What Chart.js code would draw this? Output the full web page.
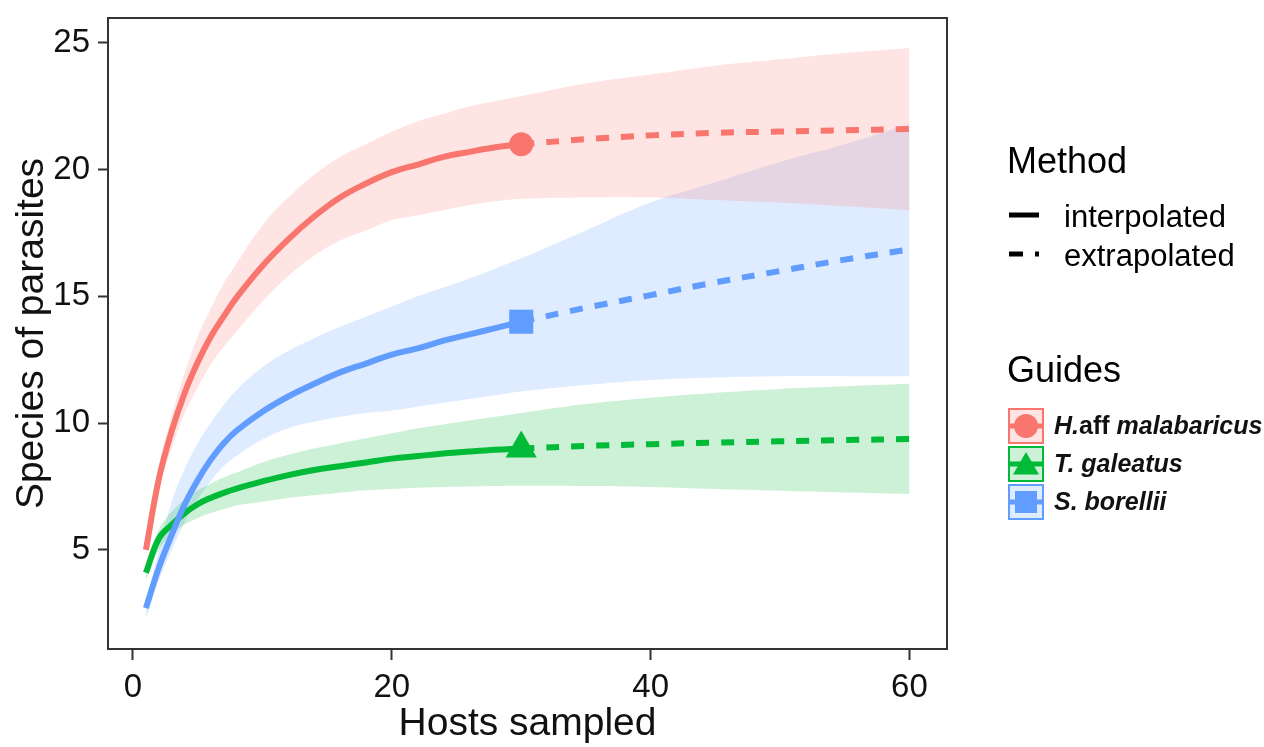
<!DOCTYPE html>
<html>
<head>
<meta charset="utf-8">
<title>Species of parasites vs hosts sampled</title>
<script src="https://cdn.jsdelivr.net/npm/chart.js@4.4.1/dist/chart.umd.min.js"></script>
<style>
  html, body { margin: 0; padding: 0; background: #fff; }
  canvas { display: block; }
</style>
</head>
<body>
<canvas id="mainChart" width="1264" height="747"></canvas>
<script>
// --- dane ---
const xInterp = [1, 2, 3, 4, 5, 6, 7, 8, 10, 12, 14, 16, 18, 20, 22, 24, 26, 28, 30];
const xExtrap = [30, 35, 40, 45, 50, 55, 60];
const xBand = xInterp.concat(xExtrap.slice(1));
const xTicks = [0, 20, 40, 60];
const yTicks = [5, 10, 15, 20, 25];

// H.aff malabaricus
const hafInterp = [5.0, 7.8, 9.7, 11.2, 12.4, 13.4, 14.2, 14.95, 16.2, 17.25, 18.15, 18.9, 19.45, 19.9, 20.2, 20.5, 20.7, 20.88, 21.0];
const hafExtrap = [21.0, 21.2, 21.35, 21.45, 21.5, 21.55, 21.6];
const hafUpper = [5.2, 8.3, 10.3, 12.0, 13.4, 14.5, 15.5, 16.3, 17.8, 18.9, 19.8, 20.5, 21.0, 21.5, 21.9, 22.2, 22.5, 22.7, 22.9, 23.4, 23.75, 24.1, 24.35, 24.6, 24.8];
const hafLower = [4.8, 7.4, 9.0, 10.4, 11.4, 12.3, 13.0, 13.6, 14.8, 15.8, 16.6, 17.2, 17.6, 18.0, 18.2, 18.4, 18.6, 18.75, 18.85, 18.9, 18.9, 18.8, 18.7, 18.55, 18.4];

// T. galeatus
const tgInterp = [4.1, 5.45, 6.0, 6.45, 6.8, 7.05, 7.25, 7.42, 7.7, 7.95, 8.15, 8.3, 8.45, 8.6, 8.7, 8.8, 8.88, 8.95, 9.0];
const tgExtrap = [9.0, 9.1, 9.17, 9.23, 9.28, 9.33, 9.37];
const tgUpper = [4.3, 5.8, 6.5, 7.0, 7.35, 7.6, 7.85, 8.05, 8.45, 8.75, 9.0, 9.2, 9.4, 9.6, 9.8, 9.95, 10.1, 10.25, 10.4, 10.75, 11.0, 11.2, 11.35, 11.45, 11.55];
const tgLower = [3.8, 5.0, 5.6, 6.0, 6.25, 6.45, 6.6, 6.75, 6.9, 7.05, 7.15, 7.25, 7.35, 7.4, 7.45, 7.48, 7.5, 7.52, 7.53, 7.52, 7.48, 7.4, 7.33, 7.26, 7.2];

// S. borellii
const sbInterp = [2.7, 4.3, 5.6, 6.8, 7.75, 8.55, 9.2, 9.7, 10.45, 11.05, 11.55, 12.0, 12.35, 12.7, 12.95, 13.25, 13.5, 13.75, 14.0];
const sbExtrap = [14.0, 14.55, 15.05, 15.55, 16.0, 16.45, 16.85];
const sbUpper = [2.9, 5.0, 6.9, 8.2, 9.2, 10.0, 10.7, 11.3, 12.2, 12.85, 13.35, 13.8, 14.2, 14.6, 15.0, 15.35, 15.7, 16.1, 16.5, 17.6, 18.7, 19.5, 20.3, 21.0, 21.8];
const sbLower = [2.3, 3.8, 5.0, 6.1, 7.0, 7.7, 8.3, 8.7, 9.35, 9.8, 10.05, 10.25, 10.4, 10.5, 10.65, 10.8, 10.95, 11.1, 11.25, 11.5, 11.7, 11.8, 11.85, 11.85, 11.85];

const FONT = "'Liberation Sans', Arial, sans-serif";

const guides = [
    { name: 'H.aff malabaricus', color: '#F8766D', band: 'rgba(248,118,109,0.2)', marker: 'circle', radius: 12,
      interp: hafInterp, extrap: hafExtrap, upper: hafUpper, lower: hafLower, order: 3 },
    { name: 'T. galeatus', color: '#00BA38', band: 'rgba(0,186,56,0.2)', marker: 'triangle', radius: 18,
      interp: tgInterp, extrap: tgExtrap, upper: tgUpper, lower: tgLower, order: 2 },
    { name: 'S. borellii', color: '#619CFF', band: 'rgba(97,156,255,0.2)', marker: 'rect', radius: 17,
      interp: sbInterp, extrap: sbExtrap, upper: sbUpper, lower: sbLower, order: 1 }
];

const pts = (xs, ys) => xs.map((x, i) => ({ x: x, y: ys[i] }));

const datasets = [];
// pasma ufności
guides.forEach(g => {
    const lowIdx = datasets.length;
    datasets.push({
        label: g.name + ' lower', data: pts(xBand, g.lower),
        borderColor: 'transparent', pointRadius: 0, fill: false, tension: 0.4, order: 10
    });
    datasets.push({
        label: g.name + ' upper', data: pts(xBand, g.upper),
        borderColor: 'transparent', backgroundColor: g.band, pointRadius: 0, fill: lowIdx,
        tension: 0.4, order: 10
    });
});
// linie i punkty
guides.forEach(g => {
    datasets.push({
        label: g.name + ' interpolated', data: pts(xInterp, g.interp),
        borderColor: g.color, borderWidth: 6, pointRadius: 0, fill: false, tension: 0.4, order: g.order
    });
    datasets.push({
        label: g.name + ' extrapolated', data: pts(xExtrap, g.extrap),
        borderColor: g.color, borderWidth: 6, borderDash: [13, 12], borderCapStyle: 'butt',
        pointRadius: 0, fill: false, tension: 0.4, order: g.order
    });
    datasets.push({
        label: g.name + ' observed', data: [{ x: 30, y: g.interp[g.interp.length - 1] }],
        showLine: false, pointStyle: g.marker, pointRadius: g.radius, pointHoverRadius: g.radius,
        backgroundColor: g.color, borderColor: g.color, borderWidth: 0, order: -1
    });
});

// ramka panelu
const framePlugin = {
    id: 'frame',
    afterDraw(chart) {
        const { ctx, chartArea: a } = chart;
        ctx.save();
        ctx.strokeStyle = '#333';
        ctx.lineWidth = 2;
        ctx.strokeRect(a.left, a.top, a.right - a.left, a.bottom - a.top);
        ctx.restore();
    }
};

function drawMarker(ctx, style, x, y, r) {
    ctx.beginPath();
    if (style === 'circle') {
        ctx.arc(x, y, r, 0, Math.PI * 2);
    } else if (style === 'triangle') {
        ctx.moveTo(x, y - r);
        ctx.lineTo(x + r * 0.866, y + r * 0.5);
        ctx.lineTo(x - r * 0.866, y + r * 0.5);
        ctx.closePath();
    } else {
        ctx.rect(x - r, y - r, 2 * r, 2 * r);
    }
    ctx.fill();
}

// legenda
const legendPlugin = {
    id: 'sideLegend',
    afterDraw(chart) {
        const ctx = chart.ctx;
        ctx.save();
        ctx.fillStyle = '#000';
        ctx.textBaseline = 'middle';
        ctx.textAlign = 'left';

        ctx.font = '36px ' + FONT;
        ctx.fillText('Method', 1007, 163);

        ctx.font = '31px ' + FONT;
        ctx.fillText('interpolated', 1064, 218);
        ctx.fillText('extrapolated', 1064, 257);

        ctx.strokeStyle = '#000';
        ctx.lineWidth = 5;
        ctx.beginPath();
        ctx.moveTo(1009, 215); ctx.lineTo(1039, 215);
        ctx.stroke();
        ctx.beginPath();
        ctx.moveTo(1009, 254); ctx.lineTo(1023, 254);
        ctx.moveTo(1035, 254); ctx.lineTo(1039, 254);
        ctx.stroke();

        ctx.font = '36px ' + FONT;
        ctx.fillText('Guides', 1007, 372);

        const boxTop = [408, 446, 484];
        const markerR = [12, 15, 11];
        guides.forEach((g, i) => {
            const bx = 1008, by = boxTop[i], s = 36;
            ctx.fillStyle = g.band;
            ctx.fillRect(bx, by, s, s);
            ctx.strokeStyle = g.color;
            ctx.lineWidth = 2;
            ctx.strokeRect(bx + 1, by + 1, s - 2, s - 2);
            ctx.lineWidth = 5;
            ctx.beginPath();
            ctx.moveTo(bx + 2, by + s / 2); ctx.lineTo(bx + s - 2, by + s / 2);
            ctx.stroke();
            ctx.fillStyle = g.color;
            drawMarker(ctx, g.marker, bx + s / 2, by + s / 2 + (g.marker === 'triangle' ? 3 : 0), markerR[i]);
        });

        ctx.fillStyle = '#111';
        const parts = [
            [['H.', 'italic bold'], ['aff ', 'bold'], ['malabaricus', 'italic bold']],
            [['T. galeatus', 'italic bold']],
            [['S. borellii', 'italic bold']]
        ];
        parts.forEach((p, i) => {
            let x = 1054;
            const y = boxTop[i] + 19;
            p.forEach(([txt, style]) => {
                ctx.font = style + ' 25px ' + FONT;
                ctx.fillText(txt, x, y);
                x += ctx.measureText(txt).width;
            });
        });
        ctx.restore();
    }
};

const ctx = document.getElementById('mainChart').getContext('2d');
const chart = new Chart(ctx, {
    type: 'line',
    data: { datasets: datasets },
    options: {
        responsive: false,
        animation: false,
        events: [],
        layout: { padding: { left: 0, right: 317, top: 13, bottom: 0 } },
        plugins: {
            legend: { display: false },
            tooltip: { enabled: false },
            filler: { drawTime: 'beforeDatasetsDraw', propagate: false }
        },
        scales: {
            x: {
                type: 'linear',
                min: -1.93,
                max: 62.9,
                afterBuildTicks: s => { s.ticks = xTicks.map(v => ({ value: v })); },
                afterFit: s => { s.height = 98; s.paddingLeft = 0; s.paddingRight = 0; },
                grid: { drawOnChartArea: false, drawTicks: true, tickLength: 11, tickColor: '#333', tickWidth: 2 },
                border: { display: true, color: '#333', width: 2 },
                ticks: { color: '#111', font: { size: 33, family: FONT }, padding: 8, maxRotation: 0 },
                title: {
                    display: true, text: 'Hosts sampled', color: '#111',
                    font: { size: 39, family: FONT, lineHeight: 1 }, padding: { top: 0, bottom: 3 }
                }
            },
            y: {
                type: 'linear',
                min: 1.09,
                max: 25.98,
                afterBuildTicks: s => { s.ticks = yTicks.map(v => ({ value: v })); },
                afterFit: s => { s.width = 108; s.paddingTop = 0; s.paddingBottom = 0; },
                grid: { drawOnChartArea: false, drawTicks: true, tickLength: 10, tickColor: '#333', tickWidth: 2 },
                border: { display: true, color: '#333', width: 2 },
                ticks: { color: '#111', font: { size: 33, family: FONT }, padding: 8 },
                title: {
                    display: true, text: 'Species of parasites', color: '#111',
                    font: { size: 39, family: FONT, lineHeight: 1 }, padding: { top: 13, bottom: 0 }
                }
            }
        }
    },
    plugins: [framePlugin, legendPlugin]
});
</script>
</body>
</html>
